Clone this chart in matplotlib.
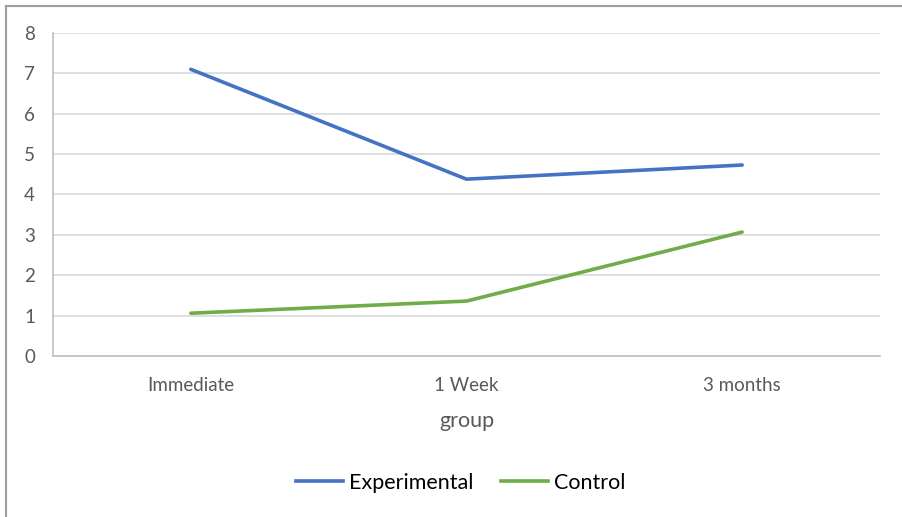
import matplotlib.pyplot as plt
from matplotlib.lines import Line2D

plt.rcParams['font.family'] = ['Lato', 'DejaVu Sans']

categories = ['Immediate', '1 Week', '3 months']
experimental = [7.10, 4.38, 4.73]
control = [1.06, 1.36, 3.07]
y_ticks = [0, 1, 2, 3, 4, 5, 6, 7, 8]

blue = '#4472C4'
green = '#70AD47'
grey_text = '#595959'

fig = plt.figure(figsize=(9.03, 5.17), dpi=100)
ax = fig.add_axes([0.0587, 0.3114, 0.9158, 0.6248])

x = range(len(categories))
ax.plot(x, experimental, color=blue, lw=2.6, solid_capstyle='round', label='Experimental')
ax.plot(x, control, color=green, lw=2.6, solid_capstyle='round', label='Control')

ax.set_xlim(-0.5, len(categories) - 0.5)
ax.set_ylim(0, 8)
ax.set_yticks(y_ticks)
ax.set_xticks(list(x))
ax.set_xticklabels(categories)
ax.grid(axis='y', color='#D9D9D9', lw=1.2)
ax.set_axisbelow(True)
ax.tick_params(length=0, labelsize=13.5, colors=grey_text)
ax.tick_params(axis='y', pad=13)
ax.tick_params(axis='x', pad=15)
for s in ['top', 'right']:
    ax.spines[s].set_visible(False)
for s in ['left', 'bottom']:
    ax.spines[s].set_color('#BFBFBF')
    ax.spines[s].set_linewidth(1.2)
ax.set_xlabel('group', fontsize=15.5, color=grey_text, labelpad=12)

handles = [Line2D([], [], color=blue, lw=2.6), Line2D([], [], color=green, lw=2.6)]
fig.legend(handles, ['Experimental', 'Control'], loc='center', bbox_to_anchor=(0.51, 0.066),
           ncol=2, frameon=False, fontsize=15.5, handlelength=2.2, handletextpad=0.25,
           columnspacing=1.3)

# outer chart frame (top and left edges visible)
fig.add_artist(Line2D([0.0066, 1.0], [0.988, 0.988], transform=fig.transFigure, color='#9E9E9E', lw=1.5))
fig.add_artist(Line2D([0.0066, 0.0066], [0.0, 0.988], transform=fig.transFigure, color='#9E9E9E', lw=1.5))

fig.savefig('out.png', dpi=100)
